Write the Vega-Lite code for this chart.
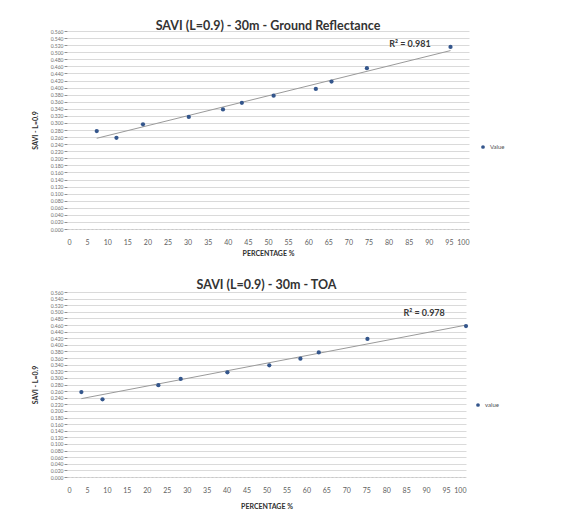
{
  "$schema": "https://vega.github.io/schema/vega-lite/v6.json",
  "background": "white",
  "padding": {"left": 31, "top": 19, "right": 5, "bottom": 0},
  "spacing": 22,
  "datasets": {
    "ground": [
      {"pct": 7.4, "savi": 0.277},
      {"pct": 12.3, "savi": 0.258},
      {"pct": 18.9, "savi": 0.296},
      {"pct": 30.3, "savi": 0.317},
      {"pct": 38.8, "savi": 0.338},
      {"pct": 43.5, "savi": 0.357},
      {"pct": 51.4, "savi": 0.377},
      {"pct": 61.9, "savi": 0.396},
      {"pct": 65.8, "savi": 0.417},
      {"pct": 74.6, "savi": 0.455},
      {"pct": 95.4, "savi": 0.515}
    ],
    "toa": [
      {"pct": 3.6, "savi": 0.257},
      {"pct": 8.9, "savi": 0.235},
      {"pct": 22.9, "savi": 0.278},
      {"pct": 28.5, "savi": 0.297},
      {"pct": 40.2, "savi": 0.317},
      {"pct": 50.7, "savi": 0.338},
      {"pct": 58.5, "savi": 0.358},
      {"pct": 63.1, "savi": 0.377},
      {"pct": 75.3, "savi": 0.418},
      {"pct": 100, "savi": 0.457}
    ],
    "r2a": [{"pct": 85.3, "savi": 0.523, "label": "R² = 0.981"}],
    "r2b": [{"pct": 89.5, "savi": 0.496, "label": "R² = 0.978"}]
  },
  "config": {
    "font": "Lato",
    "view": {"stroke": null},
    "title": {"fontSize": 12.5, "fontWeight": "bold", "color": "#333333", "anchor": "middle"},
    "axisX": {
      "grid": false, "domainColor": "#c8c8c8", "domainDash": [2,2], "ticks": false,
      "labelOverlap": false,
      "labelFontSize": 7, "labelColor": "#606060", "labelPadding": 9,
      "titleFontSize": 7, "titleColor": "#303030", "titleFontWeight": "bold", "titlePadding": 4
    },
    "axisY": {
      "gridColor": "#d0d0d0", "gridWidth": 0.8, "domain": false, "gridOpacity": 1,
      "labelOverlap": false,
      "tickColor": "#909090", "tickSize": 3, "format": ".3f",
      "labelFontSize": 5, "labelColor": "#707070", "labelPadding": 1,
      "titleFontSize": 7, "titleColor": "#303030", "titleFontWeight": "bold", "titlePadding": 12
    },
    "legend": {"labelFontSize": 6, "labelColor": "#505050", "symbolSize": 14, "title": null}
  },
  "resolve": {"legend": {"color": "independent"}, "scale": {"color": "independent"}},
  "vconcat": [
    {
      "title": {"text": "SAVI (L=0.9) - 30m - Ground Reflectance", "offset": -3},
      "width": 402,
      "height": 198,
      "layer": [
        {
          "data": {"name": "ground"},
          "transform": [{"regression": "savi", "on": "pct"}],
          "mark": {"type": "line", "color": "#9a9a9a", "strokeWidth": 1},
          "encoding": {
            "x": {"field": "pct", "type": "quantitative"},
            "y": {"field": "savi", "type": "quantitative"}
          }
        },
        {
          "data": {"name": "ground"},
          "mark": {"type": "point", "filled": true, "size": 18, "opacity": 1},
          "encoding": {
            "x": {"field": "pct", "type": "quantitative", "scale": {"domain": [0, 100]}, "title": "PERCENTAGE %", "axis": {"tickCount": 40, "labelOverlap": false, "values": [0,5,10,15,20,25,30,35,40,45,50,55,60,65,70,75,80,85,90,95,100]}},
            "y": {"field": "savi", "type": "quantitative", "scale": {"domain": [0, 0.56], "nice": false}, "title": "SAVI - L=0.9", "axis": {"tickCount": 60, "labelOverlap": false, "values": [0,0.02,0.04,0.06,0.08,0.1,0.12,0.14,0.16,0.18,0.2,0.22,0.24,0.26,0.28,0.3,0.32,0.34,0.36,0.38,0.4,0.42,0.44,0.46,0.48,0.5,0.52,0.54,0.56]}},
            "color": {"datum": "Value", "scale": {"range": ["#34568c"]}, "legend": {"orient": "none", "legendX": 413, "legendY": 113}}
          }
        },
        {
          "data": {"name": "r2a"},
          "mark": {"type": "text", "fontSize": 9, "fontWeight": "bold", "color": "#383838"},
          "encoding": {
            "x": {"field": "pct", "type": "quantitative"},
            "y": {"field": "savi", "type": "quantitative"},
            "text": {"field": "label"}
          }
        }
      ]
    },
    {
      "title": {"text": "SAVI (L=0.9) - 30m - TOA", "offset": -1},
      "width": 399,
      "height": 185,
      "layer": [
        {
          "data": {"name": "toa"},
          "transform": [{"regression": "savi", "on": "pct"}],
          "mark": {"type": "line", "color": "#9a9a9a", "strokeWidth": 1},
          "encoding": {
            "x": {"field": "pct", "type": "quantitative"},
            "y": {"field": "savi", "type": "quantitative"}
          }
        },
        {
          "data": {"name": "toa"},
          "mark": {"type": "point", "filled": true, "size": 18, "opacity": 1},
          "encoding": {
            "x": {"field": "pct", "type": "quantitative", "scale": {"domain": [0, 100]}, "title": "PERCENTAGE %", "axis": {"tickCount": 40, "labelOverlap": false, "titlePadding": 9, "values": [0,5,10,15,20,25,30,35,40,45,50,55,60,65,70,75,80,85,90,95,100]}},
            "y": {"field": "savi", "type": "quantitative", "scale": {"domain": [0, 0.56], "nice": false}, "title": "SAVI - L=0.9", "axis": {"tickCount": 60, "labelOverlap": false, "values": [0,0.02,0.04,0.06,0.08,0.1,0.12,0.14,0.16,0.18,0.2,0.22,0.24,0.26,0.28,0.3,0.32,0.34,0.36,0.38,0.4,0.42,0.44,0.46,0.48,0.5,0.52,0.54,0.56]}},
            "color": {"datum": "value", "scale": {"range": ["#34568c"]}, "legend": {"orient": "none", "legendX": 408, "legendY": 110}}
          }
        },
        {
          "data": {"name": "r2b"},
          "mark": {"type": "text", "fontSize": 9, "fontWeight": "bold", "color": "#383838"},
          "encoding": {
            "x": {"field": "pct", "type": "quantitative"},
            "y": {"field": "savi", "type": "quantitative"},
            "text": {"field": "label"}
          }
        }
      ]
    }
  ]
}
